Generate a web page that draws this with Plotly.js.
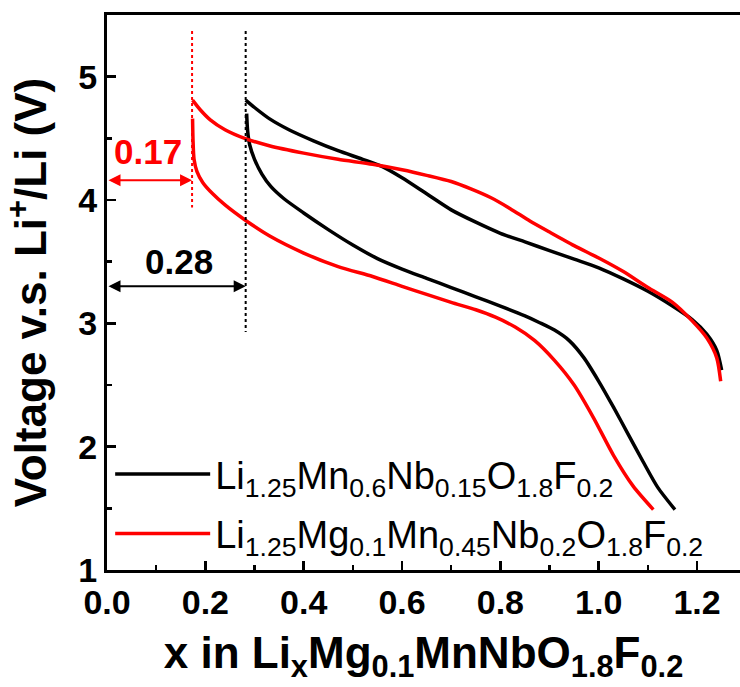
<!DOCTYPE html>
<html>
<head>
<meta charset="utf-8">
<script src="https://cdn.plot.ly/plotly-3.0.1.min.js"></script>
<style>html,body{margin:0;padding:0;background:#fff;overflow:hidden;}</style>
</head>
<body>
<div id="chart" style="width:740px;height:687px;"></div>
<script>
// Sample names
const seriesNames = [
  'Li<sub>1.25</sub>Mn<sub>0.6</sub>Nb<sub>0.15</sub>O<sub>1.8</sub>F<sub>0.2</sub>',
  'Li<sub>1.25</sub>Mg<sub>0.1</sub>Mn<sub>0.45</sub>Nb<sub>0.2</sub>O<sub>1.8</sub>F<sub>0.2</sub>'
];

// Black sample: charge branch (upper) and discharge branch (lower)
const blackChargeX = [0.282, 0.300, 0.330, 0.370, 0.420, 0.470, 0.520, 0.560, 0.600, 0.650, 0.700, 0.750, 0.800, 0.850, 0.900, 0.950, 1.000, 1.050, 1.100, 1.150, 1.190, 1.220, 1.240, 1.250];
const blackChargeV = [4.81, 4.75, 4.66, 4.57, 4.48, 4.40, 4.33, 4.27, 4.18, 4.05, 3.92, 3.82, 3.73, 3.66, 3.59, 3.52, 3.45, 3.36, 3.26, 3.14, 3.03, 2.91, 2.78, 2.62];
const blackDischargeX = [0.284, 0.286, 0.290, 0.300, 0.315, 0.333, 0.360, 0.400, 0.450, 0.500, 0.550, 0.600, 0.650, 0.700, 0.750, 0.800, 0.850, 0.880, 0.910, 0.940, 0.970, 1.000, 1.030, 1.060, 1.090, 1.120, 1.155];
const blackDischargeV = [4.70, 4.56, 4.45, 4.33, 4.21, 4.11, 4.01, 3.895, 3.76, 3.635, 3.525, 3.44, 3.365, 3.29, 3.215, 3.14, 3.06, 3.005, 2.945, 2.86, 2.72, 2.53, 2.32, 2.10, 1.88, 1.67, 1.49];

// Red sample: charge branch (upper) and discharge branch (lower)
const redChargeX = [0.174, 0.190, 0.210, 0.240, 0.280, 0.330, 0.400, 0.470, 0.540, 0.600, 0.650, 0.700, 0.740, 0.780, 0.820, 0.860, 0.900, 0.950, 1.000, 1.050, 1.100, 1.150, 1.190, 1.220, 1.240, 1.248];
const redChargeV = [4.81, 4.73, 4.65, 4.57, 4.50, 4.44, 4.38, 4.33, 4.29, 4.245, 4.20, 4.15, 4.09, 4.02, 3.93, 3.83, 3.74, 3.63, 3.53, 3.42, 3.29, 3.17, 3.02, 2.88, 2.72, 2.53];
const redDischargeX = [0.174, 0.175, 0.177, 0.183, 0.195, 0.215, 0.240, 0.280, 0.330, 0.400, 0.470, 0.540, 0.600, 0.650, 0.700, 0.750, 0.790, 0.830, 0.870, 0.910, 0.950, 0.990, 1.030, 1.070, 1.111];
const redDischargeV = [4.66, 4.48, 4.33, 4.23, 4.14, 4.05, 3.96, 3.84, 3.71, 3.57, 3.46, 3.38, 3.30, 3.235, 3.17, 3.11, 3.05, 2.97, 2.86, 2.70, 2.50, 2.23, 1.93, 1.68, 1.49];

// Initial Li extraction markers
const markerX = [0.173, 0.282];
const markerLabels = ['0.17', '0.28'];
const markerTopV = [5.37, 5.37];
const markerBottomV = [3.94, 2.93];
const arrowV = [4.16, 3.30];
const colors = ['#000000', '#ff0000'];

// Tick settings
const xTickStep = 0.2, yTickStep = 1;

const traces = [
  {
    x: blackChargeX.concat([null], blackDischargeX),
    y: blackChargeV.concat([null], blackDischargeV),
    mode: 'lines', name: seriesNames[0],
    line: {color: colors[0], width: 3.5, shape: 'spline', smoothing: 0.7},
    legendgroup: 'a'
  },
  {
    x: redChargeX.concat([null], redDischargeX),
    y: redChargeV.concat([null], redDischargeV),
    mode: 'lines', name: seriesNames[1],
    line: {color: colors[1], width: 3.5, shape: 'spline', smoothing: 0.7},
    legendgroup: 'b'
  },
  {
    x: [markerX[0], markerX[0]], y: [markerTopV[0], markerBottomV[0]],
    mode: 'lines', showlegend: false, hoverinfo: 'skip',
    line: {color: colors[1], width: 2, dash: 'dot'}
  },
  {
    x: [markerX[1], markerX[1]], y: [markerTopV[1], markerBottomV[1]],
    mode: 'lines', showlegend: false, hoverinfo: 'skip',
    line: {color: colors[0], width: 2, dash: 'dot'}
  }
];

const boldFont = {family: 'Liberation Sans, Arial, sans-serif', weight: 'bold', color: '#000'};

const annotations = [
  {x: markerX[0], y: arrowV[0], ax: 0, ay: arrowV[0], axref: 'x', ayref: 'y', xref: 'x', yref: 'y',
   text: '', showarrow: true, arrowside: 'end+start', arrowhead: 2, startarrowhead: 2,
   arrowwidth: 2, arrowsize: 1.2, startarrowsize: 1.2, arrowcolor: colors[1], standoff: 0, startstandoff: 0},
  {x: markerX[1], y: arrowV[1], ax: 0, ay: arrowV[1], axref: 'x', ayref: 'y', xref: 'x', yref: 'y',
   text: '', showarrow: true, arrowside: 'end+start', arrowhead: 2, startarrowhead: 2,
   arrowwidth: 2, arrowsize: 1.2, startarrowsize: 1.2, arrowcolor: colors[0], standoff: 0, startstandoff: 0},
  {x: 0.083, y: 4.39, xref: 'x', yref: 'y', text: markerLabels[0], showarrow: false,
   font: Object.assign({}, boldFont, {size: 35, color: colors[1]})},
  {x: 0.146, y: 3.50, xref: 'x', yref: 'y', text: markerLabels[1], showarrow: false,
   font: Object.assign({}, boldFont, {size: 35, color: colors[0]})}
];

const layout = {
  width: 740, height: 687,
  margin: {l: 107, r: 0, t: 15, b: 117, pad: 0},
  paper_bgcolor: '#fff', plot_bgcolor: '#fff',
  showlegend: true,
  legend: {
    x: 0.005, y: 0.229, xanchor: 'left', yanchor: 'top',
    bgcolor: 'rgba(0,0,0,0)', borderwidth: 0,
    font: {family: 'Liberation Sans, Arial, sans-serif', size: 38, color: '#000'},
    itemwidth: 95, tracegroupgap: 7
  },
  xaxis: {
    range: [0, 1.2873], autorange: false,
    dtick: xTickStep, tick0: 0, tickformat: '.1f',
    ticks: 'inside', ticklen: 9, tickwidth: 2.5, tickcolor: '#000',
    minor: {ticks: 'inside', ticklen: 5, tickwidth: 2.5, dtick: xTickStep / 2, tick0: 0, tickcolor: '#000', showgrid: false},
    showline: true, linewidth: 3, linecolor: '#000', mirror: true,
    showgrid: false, zeroline: false,
    tickfont: Object.assign({}, boldFont, {size: 34}),
    title: {text: 'x in Li<sub>x</sub>Mg<sub>0.1</sub>MnNbO<sub>1.8</sub>F<sub>0.2</sub>',
            font: Object.assign({}, boldFont, {size: 44}), standoff: 18},
    automargin: false
  },
  yaxis: {
    range: [1, 5.5], autorange: false,
    dtick: yTickStep, tick0: 1, tickformat: 'd',
    ticks: 'inside', ticklen: 9, tickwidth: 2.5, tickcolor: '#000',
    minor: {ticks: 'inside', ticklen: 5, tickwidth: 2.5, dtick: yTickStep / 2, tick0: 1, tickcolor: '#000', showgrid: false},
    showline: true, linewidth: 3, linecolor: '#000', mirror: false,
    showgrid: false, zeroline: false,
    tickfont: Object.assign({}, boldFont, {size: 34}),
    title: {text: 'Voltage v.s. Li<sup>+</sup>/Li (V)',
            font: Object.assign({}, boldFont, {size: 44}), standoff: 20},
    automargin: false
  },
  annotations: annotations
};

Plotly.newPlot('chart', traces, layout, {displayModeBar: false, staticPlot: true});
</script>
</body>
</html>
